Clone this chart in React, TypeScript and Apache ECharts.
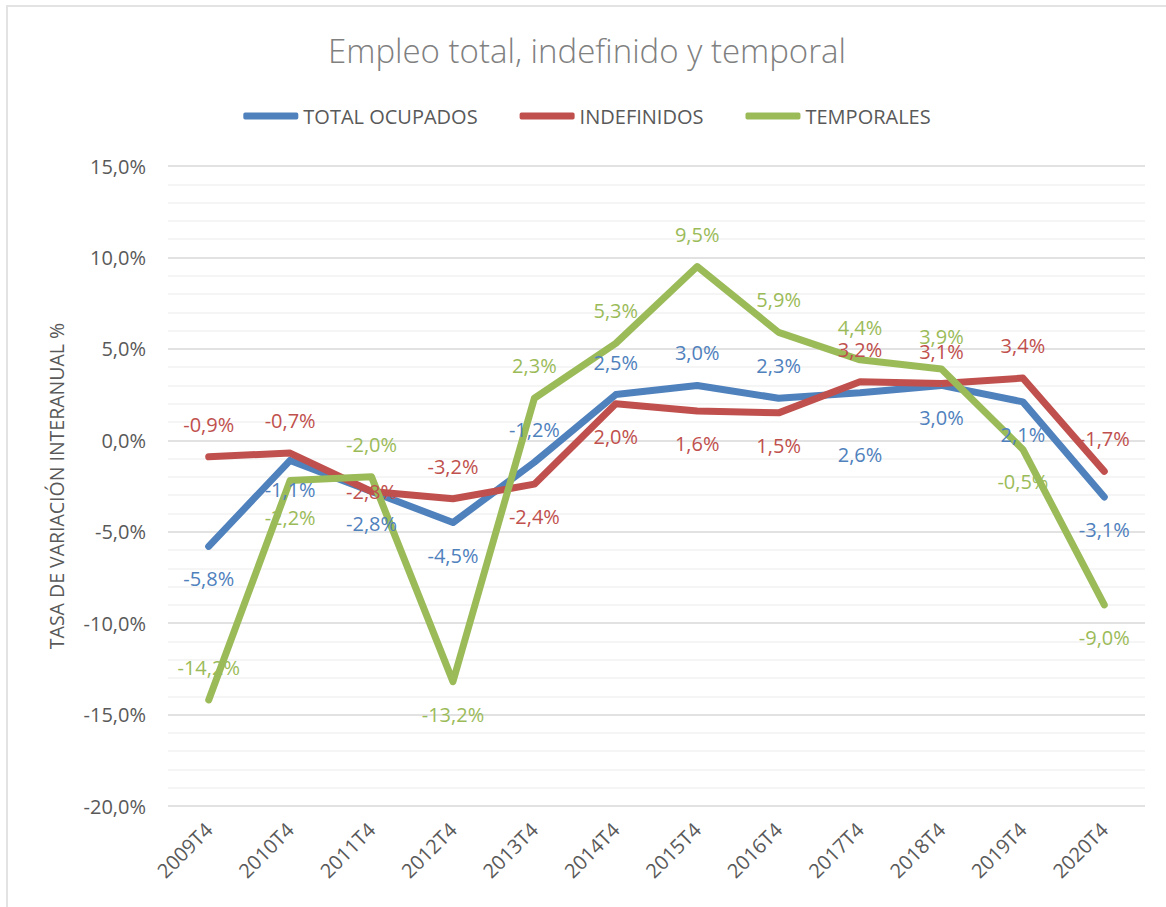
import React, { useEffect, useRef } from "react";
import * as echarts from "echarts";

const categories = ["2009T4", "2010T4", "2011T4", "2012T4", "2013T4", "2014T4", "2015T4", "2016T4", "2017T4", "2018T4", "2019T4", "2020T4"];
const totalOcupados = [-5.8, -1.1, -2.8, -4.5, -1.2, 2.5, 3.0, 2.3, 2.6, 3.0, 2.1, -3.1];
const indefinidos = [-0.9, -0.7, -2.8, -3.2, -2.4, 2.0, 1.6, 1.5, 3.2, 3.1, 3.4, -1.7];
const temporales = [-14.2, -2.2, -2.0, -13.2, 2.3, 5.3, 9.5, 5.9, 4.4, 3.9, -0.5, -9.0];
const yTicks = [-20, -15, -10, -5, 0, 5, 10, 15];

// label placements (Excel auto layout)
const totalPos = ["bottom", "bottom", "bottom", "bottom", "top", "top", "top", "top", "bottom", "bottom", "bottom", "bottom"];
const indefPos = ["top", "top", "inside", "top", "bottom", "bottom", "bottom", "bottom", "top", "top", "top", "top"];
const tempPos = ["top", "bottom", "top", "bottom", "top", "top", "top", "top", "top", "top", "bottom", "bottom"];
// extra vertical shift of single labels (px)
const totalShift = [0, -3, 0, 0, 0, 0, 0, 0, 29, 0, 0, 0];
const indefShift = [0, 0, 0, 0, 0, 0, 0, 0, 0, 0, 0, 0];
const tempShift = [0, 4, 0, 0, 0, 0, 0, 0, 0, 0, 0, 0];

const FONT = "'Open Sans', Lato, sans-serif";
const fmt = (v: number) => v.toFixed(1).replace(".", ",") + "%";

function mkSeries(name: string, values: number[], pos: string[], shift: number[], color: string) {
  return {
    name,
    type: "line",
    data: values.map((v, i) => ({
      value: v,
      label: { position: pos[i], offset: [0, shift[i]] },
    })),
    symbol: "circle",
    symbolSize: 1,
    showSymbol: true,
    itemStyle: { color },
    lineStyle: { color, width: 7, cap: "round", join: "round" },
    label: {
      show: true,
      distance: 22,
      color,
      fontSize: 20,
      fontFamily: FONT,
      formatter: (p: any) => fmt(p.value),
    },
    emphasis: { disabled: true },
  };
}

export default function App() {
  const ref = useRef<HTMLDivElement>(null);
  useEffect(() => {
    if (!ref.current) return;
    const chart = echarts.init(ref.current, undefined, { renderer: "svg" });
    chart.setOption({
      animation: false,
      backgroundColor: "#ffffff",
      title: {
        text: "Empleo total, indefinido y temporal",
        left: "center",
        top: 22,
        textStyle: { color: "#808080", fontSize: 33, fontWeight: 300, fontFamily: FONT },
      },
      legend: {
        top: 94,
        left: "center",
        icon: "roundRect",
        itemWidth: 55,
        itemHeight: 7,
        itemGap: 42,
        textStyle: { color: "#595959", fontSize: 20, fontFamily: FONT },
        data: ["TOTAL OCUPADOS", "INDEFINIDOS", "TEMPORALES"],
      },
      grid: { left: 160, right: 21, top: 159, bottom: 101, containLabel: false },
      xAxis: {
        type: "category",
        data: categories,
        boundaryGap: true,
        axisLine: { show: false },
        axisTick: { show: false },
        axisLabel: { rotate: 45, color: "#595959", fontSize: 20, fontFamily: FONT, margin: 20 },
        splitLine: { show: false },
      },
      yAxis: {
        type: "value",
        min: yTicks[0],
        max: yTicks[yTicks.length - 1],
        interval: 5,
        name: "TASA DE VARIACIÓN INTERANUAL %",
        nameLocation: "middle",
        nameGap: 102,
        nameRotate: 90,
        nameTextStyle: { color: "#595959", fontSize: 19.5, fontFamily: FONT },
        axisLine: { show: false },
        axisTick: { show: false },
        axisLabel: { color: "#595959", fontSize: 20, fontFamily: FONT, margin: 22, formatter: (v: number) => fmt(v) },
        splitLine: { show: true, lineStyle: { color: "#d9d9d9", width: 1.5 } },
        minorTick: { show: false, splitNumber: 5 },
        minorSplitLine: { show: true, lineStyle: { color: "#f2f2f2", width: 1.5 } },
      },
      series: [
        mkSeries("TOTAL OCUPADOS", totalOcupados, totalPos, totalShift, "#4F81BD"),
        mkSeries("INDEFINIDOS", indefinidos, indefPos, indefShift, "#C0504D"),
        mkSeries("TEMPORALES", temporales, tempPos, tempShift, "#9BBB59"),
      ],
    });
    return () => chart.dispose();
  }, []);
  return (
    <div style={{ position: "absolute", left: 6, top: 5, borderLeft: "2px solid #e3e3e3", borderTop: "2px solid #e3e3e3" }}>
      <div ref={ref} style={{ width: 1158, height: 900 }} />
    </div>
  );
}
